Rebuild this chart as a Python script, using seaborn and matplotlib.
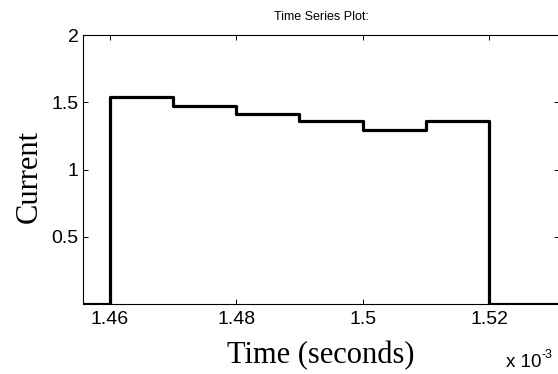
import matplotlib
matplotlib.use("Agg")
import matplotlib.pyplot as plt
import seaborn as sns
import pandas as pd

# Data (time in units of 1e-3 seconds)
time_ms = [1.455, 1.46, 1.47, 1.48, 1.49, 1.50, 1.51, 1.52, 1.535]
current = [0.0, 1.54, 1.47, 1.41, 1.36, 1.29, 1.36, 0.0, 0.0]
xtick_vals = [1.46, 1.48, 1.50, 1.52]
xtick_labels = ["1.46", "1.48", "1.5", "1.52"]
ytick_vals = [0.5, 1.0, 1.5, 2.0]
ytick_labels = ["0.5", "1", "1.5", "2"]

df = pd.DataFrame({"time": time_ms, "current": current})

sns.set_theme(style="white")
plt.rcParams["font.family"] = ["Liberation Sans", "DejaVu Sans"]

W, H = 558, 374
fig = plt.figure(figsize=(W / 100, H / 100), dpi=100)
left, right, top, bottom = 83, 559, 35, 304
ax = fig.add_axes([left / W, 1 - bottom / H, (right - left) / W, (bottom - top) / H])

sns.lineplot(data=df, x="time", y="current", ax=ax, color="black",
             linewidth=2.3, drawstyle="steps-post", estimator=None, sort=False)

ax.set_xlim(1.45573, 1.53108)
ax.set_ylim(0, 2)
ax.set_xticks(xtick_vals)
ax.set_xticklabels(xtick_labels)
ax.set_yticks(ytick_vals)
ax.set_yticklabels(ytick_labels)

for s in ax.spines.values():
    s.set_visible(True)
    s.set_color("black")
    s.set_linewidth(0.8)

ax.tick_params(axis="both", direction="in", length=3.5, width=0.7, color="black",
               labelsize=14, labelcolor="black", top=True, right=True,
               bottom=True, left=True)
ax.tick_params(axis="x", pad=5)
ax.tick_params(axis="y", pad=3)

ax.set_xlabel("Time (seconds)", fontsize=22, family=["Liberation Serif"], color="black")
ax.xaxis.label.set_va("baseline")
ax.xaxis.set_label_coords(0.5, (bottom - 363) / (bottom - top))

ax.set_ylabel("Current", fontsize=22, family=["Liberation Serif"], color="black")
ax.yaxis.label.set_va("baseline")
ax.yaxis.set_label_coords((36.7 - left) / (right - left), (bottom - 176.5) / (bottom - top))

ax.set_title("Time Series Plot:", fontsize=9, color="black",
             y=(bottom - 19.5) / (bottom - top), pad=0)

fig.text(506 / W, 1 - 367.3 / H, "x 10", fontsize=13.5, color="black",
         ha="left", va="baseline")
fig.text(542 / W, 1 - 357.5 / H, "-3", fontsize=9, color="black",
         ha="left", va="baseline")

fig.savefig("out.png", dpi=100)
